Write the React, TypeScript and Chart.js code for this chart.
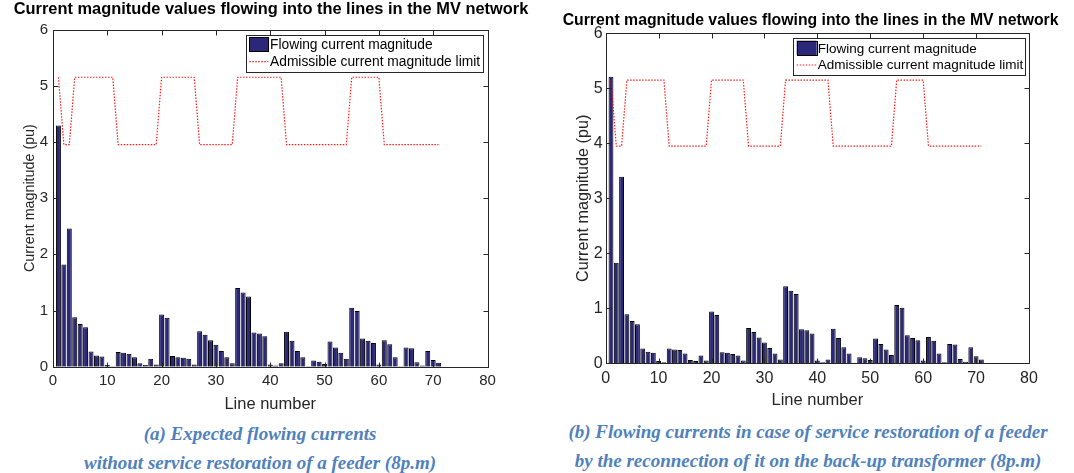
import { useEffect, useRef } from 'react';
import { Chart, registerables } from 'chart.js';

Chart.register(...registerables);

const lineNumbers = [
  1, 2, 3, 4, 5, 6, 7, 8, 9, 10, 11, 12, 13, 14, 15, 16, 17, 18, 19, 20,
  21, 22, 23, 24, 25, 26, 27, 28, 29, 30, 31, 32, 33, 34, 35, 36, 37, 38, 39, 40,
  41, 42, 43, 44, 45, 46, 47, 48, 49, 50, 51, 52, 53, 54, 55, 56, 57, 58, 59, 60,
  61, 62, 63, 64, 65, 66, 67, 68, 69, 70, 71,
];

// (a) without service restoration
const currentA = [
  4.29, 1.82, 2.46, 0.88, 0.76, 0.70, 0.27, 0.20, 0.18, 0.03,
  0.01, 0.26, 0.25, 0.23, 0.17, 0.06, 0.03, 0.14, 0.04, 0.93,
  0.87, 0.19, 0.17, 0.16, 0.14, 0.04, 0.63, 0.57, 0.47, 0.39,
  0.28, 0.17, 0.06, 1.40, 1.32, 1.25, 0.61, 0.59, 0.54, 0.04,
  0.02, 0.06, 0.62, 0.46, 0.28, 0.17, 0.01, 0.11, 0.09, 0.05,
  0.45, 0.34, 0.25, 0.14, 1.05, 0.99, 0.50, 0.46, 0.42, 0.04,
  0.47, 0.40, 0.17, 0.01, 0.34, 0.33, 0.08, 0.02, 0.28, 0.12, 0.07,
];

// (b) with reconnection on the back-up transformer
const currentB = [
  5.21, 1.83, 3.39, 0.89, 0.77, 0.71, 0.27, 0.21, 0.19, 0.04,
  0.02, 0.27, 0.25, 0.24, 0.18, 0.06, 0.04, 0.14, 0.05, 0.94,
  0.88, 0.20, 0.19, 0.17, 0.14, 0.05, 0.64, 0.57, 0.47, 0.38,
  0.28, 0.18, 0.07, 1.40, 1.32, 1.26, 0.62, 0.60, 0.54, 0.05,
  0.02, 0.07, 0.63, 0.46, 0.29, 0.18, 0.01, 0.11, 0.09, 0.06,
  0.45, 0.35, 0.25, 0.15, 1.06, 1.01, 0.51, 0.46, 0.42, 0.05,
  0.48, 0.41, 0.18, 0.02, 0.35, 0.34, 0.08, 0.03, 0.29, 0.13, 0.07,
];

const limitValues = [
  5.15, 3.95, 3.95, 5.15, 5.15, 5.15, 5.15, 5.15, 5.15, 5.15,
  5.15, 3.95, 3.95, 3.95, 3.95, 3.95, 3.95, 3.95, 3.95, 5.15,
  5.15, 5.15, 5.15, 5.15, 5.15, 5.15, 3.95, 3.95, 3.95, 3.95,
  3.95, 3.95, 3.95, 5.15, 5.15, 5.15, 5.15, 5.15, 5.15, 5.15,
  5.15, 5.15, 3.95, 3.95, 3.95, 3.95, 3.95, 3.95, 3.95, 3.95,
  3.95, 3.95, 3.95, 3.95, 5.15, 5.15, 5.15, 5.15, 5.15, 5.15,
  3.95, 3.95, 3.95, 3.95, 3.95, 3.95, 3.95, 3.95, 3.95, 3.95, 3.95,
];

const xTickValues = [0, 10, 20, 30, 40, 50, 60, 70, 80];
const yTickValues = [0, 1, 2, 3, 4, 5, 6];

const chartTitle = 'Current magnitude values flowing into the lines in the MV network';
const xAxisTitle = 'Line number';
const yAxisTitle = 'Current magnitude (pu)';
const barLabel = 'Flowing current magnitude';
const limitLabel = 'Admissible current magnitude limit';

const captionA = ['(a) Expected flowing currents', 'without service restoration of a feeder (8p.m)'];
const captionB = [
  '(b) Flowing currents in case of service restoration of a feeder',
  'by the reconnection of it on the back-up transformer (8p.m)',
];

const SANS = "'Liberation Sans', Arial, Helvetica, sans-serif";
const BAR_FILL = '#2c2879';
const LIMIT_COLOR = 'rgba(255,0,0,0.9)';

const boxPlugin = {
  id: 'mBox',
  afterDatasetsDraw(chart: any) {
    const { ctx, chartArea: a, scales } = chart;
    const x = scales.x;
    const y = scales.y;
    const L = Math.round(a.left) + 0.5;
    const R = Math.round(a.right) + 0.5;
    const T = Math.round(a.top) + 0.5;
    const B = Math.round(a.bottom) + 0.5;
    ctx.save();
    ctx.strokeStyle = '#262626';
    ctx.lineWidth = 1;
    ctx.strokeRect(L, T, R - L, B - T);
    const tl = 5;
    ctx.beginPath();
    xTickValues.slice(1, -1).forEach((v) => {
      const px = Math.round(x.getPixelForValue(v)) + 0.5;
      ctx.moveTo(px, B);
      ctx.lineTo(px, B - tl);
      ctx.moveTo(px, T);
      ctx.lineTo(px, T + tl);
    });
    yTickValues.slice(1, -1).forEach((v) => {
      const py = Math.round(y.getPixelForValue(v)) + 0.5;
      ctx.moveTo(L, py);
      ctx.lineTo(L + tl, py);
      ctx.moveTo(R, py);
      ctx.lineTo(R - tl, py);
    });
    ctx.stroke();
    ctx.restore();
  },
};

const titlePlugin = {
  id: 'mTitle',
  afterDraw(chart: any, _args: any, o: any) {
    const { ctx } = chart;
    ctx.save();
    ctx.font = `bold ${o.size}px ${SANS}`;
    ctx.fillStyle = '#000';
    ctx.textAlign = 'center';
    ctx.textBaseline = 'middle';
    ctx.fillText(o.text, o.x, o.y);
    ctx.restore();
  },
};

const legendPlugin = {
  id: 'mLegend',
  afterDraw(chart: any, _args: any, o: any) {
    const { ctx } = chart;
    ctx.save();
    ctx.fillStyle = '#fff';
    ctx.fillRect(o.box.x, o.box.y, o.box.w, o.box.h);
    ctx.strokeStyle = '#262626';
    ctx.lineWidth = 1;
    ctx.strokeRect(Math.round(o.box.x) + 0.5, Math.round(o.box.y) + 0.5, Math.round(o.box.w), Math.round(o.box.h));
    ctx.fillStyle = BAR_FILL;
    ctx.fillRect(o.sw.x, o.sw.y, o.sw.w, o.sw.h);
    ctx.strokeStyle = '#000';
    ctx.strokeRect(Math.round(o.sw.x) + 0.5, Math.round(o.sw.y) + 0.5, Math.round(o.sw.w), Math.round(o.sw.h));
    ctx.strokeStyle = LIMIT_COLOR;
    ctx.lineWidth = 1.2;
    ctx.setLineDash([1.5, 1.5]);
    ctx.beginPath();
    ctx.moveTo(o.sw.x, o.lineY);
    ctx.lineTo(o.sw.x + o.sw.w, o.lineY);
    ctx.stroke();
    ctx.setLineDash([]);
    ctx.fillStyle = '#000';
    ctx.font = `${o.size}px ${SANS}`;
    ctx.textAlign = 'left';
    ctx.textBaseline = 'middle';
    ctx.fillText(o.labels[0], o.textX, o.row1);
    ctx.fillText(o.labels[1], o.textX, o.row2);
    ctx.restore();
  },
};

type PanelCfg = {
  left: number;
  values: number[];
  yAxisWidth: number;
  padTop: number;
  padRight: number;
  padBottom: number;
  tickSize: number;
  xTickPad: number;
  yTickPad: number;
  yTitleSize: number;
  yTitlePad: number;
  xTitlePad: number;
  title: { x: number; y: number; size: number };
  legend: any;
};

const panelA: PanelCfg = {
  left: 0,
  values: currentA,
  yAxisWidth: 53,
  padTop: 29.5,
  padRight: 49.5,
  padBottom: 3.3,
  tickSize: 15,
  xTickPad: 5,
  yTickPad: 5,
  yTitleSize: 14.3,
  yTitlePad: 21.5,
  xTitlePad: 2.8,
  title: { x: 271, y: 9, size: 16.4 },
  legend: {
    box: { x: 245.7, y: 35, w: 236.6, h: 36.7 },
    sw: { x: 249.3, y: 37, w: 19, h: 14 },
    lineY: 61.7,
    textX: 270,
    row1: 45,
    row2: 62.5,
    size: 13.8,
  },
};

const panelB: PanelCfg = {
  left: 537,
  values: currentB,
  yAxisWidth: 68.7,
  padTop: 33.3,
  padRight: 45,
  padBottom: 6.7,
  tickSize: 16,
  xTickPad: 5.5,
  yTickPad: 3,
  yTitleSize: 16.2,
  yTitlePad: 36.5,
  xTitlePad: 3.4,
  title: { x: 273.6, y: 20.5, size: 15.8 },
  legend: {
    box: { x: 256.3, y: 38.3, w: 231.7, h: 36.7 },
    sw: { x: 259.7, y: 40.7, w: 20, h: 14.3 },
    lineY: 65,
    textX: 280.7,
    row1: 49.3,
    row2: 65,
    size: 13.5,
  },
};

function buildConfig(p: PanelCfg): any {
  return {
    type: 'bar',
    data: {
      datasets: [
        {
          type: 'line',
          label: limitLabel,
          data: lineNumbers.map((n, i) => ({ x: n, y: limitValues[i] })),
          borderColor: LIMIT_COLOR,
          borderWidth: 1.2,
          borderDash: [1.5, 1.5],
          pointRadius: 0,
          fill: false,
          tension: 0,
          order: 0,
        },
        {
          type: 'bar',
          label: barLabel,
          data: lineNumbers.map((n, i) => ({ x: n, y: p.values[i] })),
          backgroundColor: BAR_FILL,
          borderColor: '#000',
          borderWidth: 1,
          barPercentage: 0.92,
          categoryPercentage: 1,
          order: 1,
        },
      ],
    },
    options: {
      responsive: false,
      animation: false,
      devicePixelRatio: 1,
      layout: { padding: { left: 0, right: p.padRight, top: p.padTop, bottom: p.padBottom } },
      plugins: {
        legend: { display: false },
        tooltip: { enabled: false },
        title: { display: false },
        mTitle: { text: chartTitle, ...p.title },
        mLegend: { ...p.legend, labels: [barLabel, limitLabel] },
      },
      scales: {
        x: {
          type: 'linear',
          min: 0,
          max: 80,
          offset: false,
          afterBuildTicks: (s: any) => {
            s.ticks = xTickValues.map((v) => ({ value: v }));
          },
          afterFit: (s: any) => {
            s.height = 50;
          },
          ticks: {
            autoSkip: false,
            maxRotation: 0,
            padding: p.xTickPad,
            color: '#262626',
            font: { family: SANS, size: p.tickSize },
          },
          grid: { display: false, drawTicks: false },
          border: { display: false },
          title: {
            display: true,
            text: xAxisTitle,
            color: '#262626',
            font: { family: SANS, size: 16.5 },
            padding: { top: 0, bottom: p.xTitlePad },
          },
        },
        y: {
          type: 'linear',
          min: 0,
          max: 6,
          afterBuildTicks: (s: any) => {
            s.ticks = yTickValues.map((v) => ({ value: v }));
          },
          afterFit: (s: any) => {
            s.width = p.yAxisWidth;
          },
          ticks: {
            padding: p.yTickPad,
            color: '#262626',
            font: { family: SANS, size: p.tickSize },
          },
          grid: { display: false, drawTicks: false },
          border: { display: false },
          title: {
            display: true,
            text: yAxisTitle,
            color: '#262626',
            font: { family: SANS, size: p.yTitleSize },
            padding: { top: p.yTitlePad, bottom: 0 },
          },
        },
      },
    },
    plugins: [boxPlugin, titlePlugin, legendPlugin],
  };
}

function Panel({ cfg }: { cfg: PanelCfg }) {
  const ref = useRef<HTMLCanvasElement | null>(null);
  useEffect(() => {
    if (!ref.current) return;
    const chart = new Chart(ref.current, buildConfig(cfg));
    return () => chart.destroy();
  }, [cfg]);
  return (
    <canvas
      ref={ref}
      width={537}
      height={420}
      style={{ position: 'absolute', left: cfg.left, top: 0, width: 537, height: 420 }}
    />
  );
}

const captionStyle: any = {
  position: 'absolute',
  fontFamily: "'Liberation Serif', 'Times New Roman', serif",
  fontWeight: 'bold',
  fontStyle: 'italic',
  fontSize: 19,
  lineHeight: '20px',
  color: '#4f81bd',
  textAlign: 'center',
  whiteSpace: 'nowrap',
};

export default function App() {
  return (
    <div
      style={{
        position: 'absolute',
        left: 0,
        top: 0,
        width: 1074,
        height: 473,
        background: '#fff',
        overflow: 'hidden',
      }}
    >
      <Panel cfg={panelA} />
      <Panel cfg={panelB} />
      <div style={{ ...captionStyle, left: 0, width: 520, top: 424 }}>{captionA[0]}</div>
      <div style={{ ...captionStyle, left: 0, width: 520, top: 453 }}>{captionA[1]}</div>
      <div style={{ ...captionStyle, left: 540, width: 536, top: 422 }}>{captionB[0]}</div>
      <div style={{ ...captionStyle, left: 540, width: 536, top: 451 }}>{captionB[1]}</div>
    </div>
  );
}
